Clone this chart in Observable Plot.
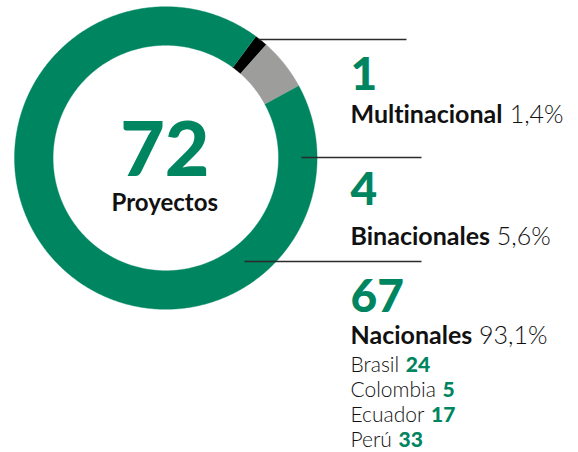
<!DOCTYPE html>
<html><head><meta charset="utf-8">
<script src="https://cdn.jsdelivr.net/npm/d3@7"></script>
<script src="https://cdn.jsdelivr.net/npm/@observablehq/plot@0.6"></script>
<style>body{margin:0;background:#fff;} #chart svg{display:block;} #chart svg text{font-variant-ligatures:none;}</style>
</head><body><div id="chart"></div>
<script>
// ---- data ----
const categories = ["Multinacional", "Binacionales", "Nacionales"];
const values = [1, 4, 67];
const percentLabels = ["1,4%", "5,6%", "93,1%"];
const countries = ["Brasil", "Colombia", "Ecuador", "Perú"];
const countryValues = [24, 5, 17, 33];
const centerLabel = "Proyectos";

// ---- layout & style ----
const W = 578, H = 452;
const cx = 165.3, cy = 157.5, R = 151.3, r = 112.7;
const startDeg = 36.5;
const green = "#008561";
const colors = ["#000000", "#9d9d9c", green];
const textX = 350;
const numberBaselines = [89, 204, 311];
const labelBaselines = [122, 244, 343];
const countryBaselines = [371, 396, 421, 446];
const leaderX1 = [258, 301, 244], leaderX2 = [406, 421, 421], leaderY = [39, 157, 261];
const font = "Lato, 'Open Sans', sans-serif";
const numSize = 46, labelSize = 25, countrySize = 21;

const ctx = document.createElement("canvas").getContext("2d");
function measure(t, weight, size) { ctx.font = `${weight} ${size}px ${font}`; return ctx.measureText(t).width; }

// ---- donut geometry from data ----
const total = d3.sum(values);
let acc = 0;
const arcPts = [];
categories.forEach((c, i) => {
  const a0 = startDeg + acc / total * 360; acc += values[i];
  const a1 = startDeg + acc / total * 360;
  const n = Math.max(2, Math.ceil((a1 - a0) * 2));
  for (let k = 0; k <= n; k++) { const a = (a0 + (a1 - a0) * k / n) * Math.PI / 180; arcPts.push({cat: c, x: cx + R * Math.sin(a), y: cy - R * Math.cos(a)}); }
  for (let k = n; k >= 0; k--) { const a = (a0 + (a1 - a0) * k / n) * Math.PI / 180; arcPts.push({cat: c, x: cx + r * Math.sin(a), y: cy - r * Math.cos(a)}); }
});

const rows = categories.map((c, i) => ({
  cat: c, value: values[i], pct: percentLabels[i],
  ny: numberBaselines[i], ly: labelBaselines[i],
  px: textX + measure(c, 700, labelSize) + measure(" ", 300, labelSize),
  lx1: leaderX1[i], lx2: leaderX2[i], ly0: leaderY[i]
}));
const crow = countries.map((c, i) => ({
  name: c, value: countryValues[i], y: countryBaselines[i],
  vx: textX + measure(c, 300, countrySize) + measure(" ", 300, countrySize) + 1
}));

const chart = Plot.plot({
  width: W, height: H, margin: 0,
  x: {domain: [0, W], range: [0, W], axis: null},
  y: {domain: [0, H], range: [0, H], axis: null},
  color: {domain: categories, range: colors},
  style: {fontFamily: font, background: "white"},
  marks: [
    Plot.line(arcPts, {x: "x", y: "y", z: "cat", fill: "cat", stroke: "cat", strokeWidth: 0.4}),
    Plot.link(rows, {x1: "lx1", x2: "lx2", y1: "ly0", y2: "ly0", stroke: "#2b2b2b", strokeWidth: 1.3}),
    Plot.text([total], {x: cx - 1, y: 175, text: d => String(d), fontSize: 77, fontWeight: 900, fill: green, textAnchor: "middle", lineAnchor: "bottom"}),
    Plot.text([centerLabel], {x: cx - 1, y: 210.5, text: d => d, fontSize: 24, fontWeight: 700, fill: "#111", textAnchor: "middle", lineAnchor: "bottom"}),
    Plot.text(rows, {x: textX, y: "ny", text: d => String(d.value), fontSize: numSize, fontWeight: 900, fill: green, textAnchor: "start", lineAnchor: "bottom"}),
    Plot.text(rows, {x: textX, y: "ly", text: "cat", fontSize: labelSize, fontWeight: 700, fill: "#111", textAnchor: "start", lineAnchor: "bottom"}),
    Plot.text(rows, {x: "px", y: "ly", text: "pct", fontSize: labelSize, fontWeight: 300, fill: "#111", textAnchor: "start", lineAnchor: "bottom"}),
    Plot.text(crow, {x: textX, y: "y", text: "name", fontSize: countrySize, fontWeight: 300, fill: "#111", textAnchor: "start", lineAnchor: "bottom"}),
    Plot.text(crow, {x: "vx", y: "y", text: d => String(d.value), fontSize: countrySize, fontWeight: 900, fill: green, textAnchor: "start", lineAnchor: "bottom"})
  ]
});
document.getElementById("chart").append(chart);
</script></body></html>
